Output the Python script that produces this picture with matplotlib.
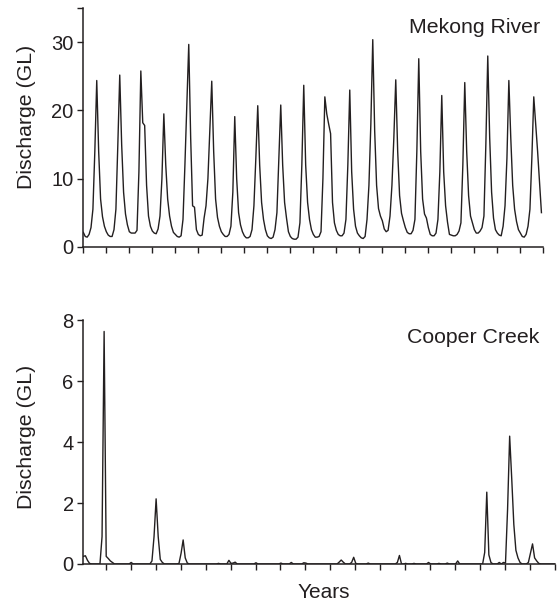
import numpy as np
import matplotlib
matplotlib.use("Agg")
import matplotlib.pyplot as plt

plt.rcParams["font.family"] = ["Liberation Sans", "DejaVu Sans"]

# monthly discharge (GL), one row per year
mekong = [
    [2.1, 1.5, 1.4, 1.8, 2.8, 5.5, 14, 24.4, 14, 7, 4.4, 3.0],
    [2.2, 1.7, 1.5, 1.5, 2.5, 5.5, 15, 25.2, 15, 8, 4.8, 3.2],
    [2.2, 2.0, 2.0, 2.0, 2.4, 11, 25.8, 18.2, 17.8, 9, 4.5, 3.0],
    [2.3, 2.0, 1.9, 2.6, 4.5, 10, 19.5, 12, 7, 4.5, 3.0, 2.1],
    [1.8, 1.5, 1.4, 1.6, 4, 12, 21, 29.7, 16, 6.0, 5.8, 2.5],
    [1.8, 1.6, 1.7, 4.2, 6, 10, 17, 24.3, 14, 7, 4.3, 3.0],
    [2.2, 1.8, 1.5, 1.5, 1.8, 3, 8, 19.1, 10, 5, 3.2, 2.2],
    [1.6, 1.3, 1.3, 1.5, 2.5, 6, 13, 20.7, 12, 6.5, 4.0, 2.5],
    [1.6, 1.3, 1.2, 1.4, 2.5, 5, 13, 20.8, 12, 6.5, 4.2, 2.2],
    [1.5, 1.2, 1.1, 1.1, 1.4, 3.5, 12, 23.7, 12, 6.5, 4.0, 2.5],
    [1.8, 1.4, 1.4, 1.5, 2.2, 10, 22, 19.5, 18, 16.6, 6.5, 3.5],
    [2.4, 1.8, 1.6, 1.6, 2.0, 4, 12, 23, 11, 5.5, 3.0, 2.0],
    [1.6, 1.3, 1.2, 1.5, 4, 9, 18, 30.4, 17, 9, 5.6, 4.5],
    [3.8, 2.6, 2.2, 2.4, 4.5, 9, 16, 24.5, 14, 7.5, 4.9, 3.8],
    [2.8, 2.1, 1.9, 1.9, 2.4, 4, 14, 27.6, 14, 7, 4.8, 4.2],
    [2.8, 1.8, 1.6, 1.6, 2.0, 4, 11, 22.2, 11, 6, 3.6, 1.8],
    [1.7, 1.6, 1.6, 1.8, 2.3, 3.5, 12, 24.1, 14, 7.5, 4.5, 3.5],
    [2.5, 2.0, 2.0, 2.3, 2.8, 4.5, 15, 28, 16, 8, 4.2, 2.5],
    [2.0, 1.7, 1.6, 3.0, 6, 13, 24.4, 16, 9, 5.5, 3.7, 2.5],
    [2.0, 1.5, 1.4, 1.8, 3.0, 5.5, 13, 22, 18, 14, 9.5, 5.0],
]

cooper = [
    [0.25, 0.27, 0.12, 0.02, 0, 0, 0, 0, 0, 0.9, 7.64, 0.25],
    [0.18, 0.1, 0.05, 0, 0, 0, 0, 0, 0, 0, 0, 0.05],
    [0, 0, 0, 0, 0, 0, 0, 0, 0, 0.1, 0.9, 2.14],
    [0.9, 0.15, 0.05, 0, 0, 0, 0, 0, 0, 0, 0.02, 0.35],
    [0.79, 0.2, 0.03, 0, 0, 0, 0, 0, 0, 0, 0, 0],
    [0, 0, 0, 0, 0, 0.02, 0, 0, 0, 0, 0.12, 0.02],
    [0.03, 0.06, 0, 0, 0, 0, 0, 0, 0, 0, 0, 0.04],
    [0, 0, 0, 0, 0, 0, 0, 0, 0, 0, 0, 0.03],
    [0, 0, 0, 0, 0.05, 0, 0, 0, 0, 0, 0.04, 0.03],
    [0, 0, 0, 0, 0, 0, 0, 0, 0, 0, 0, 0],
    [0, 0, 0, 0.06, 0.13, 0.06, 0, 0, 0, 0.05, 0.22, 0.02],
    [0, 0, 0, 0, 0, 0.03, 0, 0, 0, 0, 0, 0],
    [0, 0, 0, 0, 0, 0, 0, 0.05, 0.28, 0, 0, 0.02],
    [0, 0, 0, 0.02, 0, 0, 0, 0, 0, 0, 0.05, 0],
    [0, 0, 0, 0.02, 0, 0, 0, 0.03, 0, 0, 0, 0],
    [0.1, 0, 0, 0, 0, 0, 0, 0, 0, 0, 0, 0],
    [0, 0.38, 2.36, 0.3, 0.05, 0, 0, 0, 0.05, 0, 0.05, 0.03],
    [1.8, 4.2, 2.8, 1.3, 0.45, 0.2, 0.05, 0, 0, 0, 0.05, 0.35],
    [0.66, 0.2, 0.1, 0.02, 0, 0, 0, 0, 0, 0, 0, 0],
]

top_yticks = [0, 10, 20, 30, 35]
top_ylabels = ["0", "10", "20", "30", ""]
bot_yticks = [0, 2, 4, 6, 8]

ink = "#231f20"

mek = np.array(mekong).ravel()
coo = np.array(cooper).ravel()
mek_x = np.arange(len(mek)) / 12
coo_x = 0.1 + np.arange(len(coo)) / 12

fig = plt.figure(figsize=(5.57, 6.03), dpi=100)
ax1 = fig.add_axes([0.1496, 0.5909, 0.8259, 0.3953])
ax2 = fig.add_axes([0.1496, 0.0647, 0.8468, 0.4038])

ax1.plot(mek_x, mek, color=ink, lw=1.0)
ax2.plot(coo_x, coo, color=ink, lw=1.0)

ax1.set_xlim(0, 20)
ax1.set_ylim(0, 35)
ax1.set_xticks(range(0, 21))
ax1.set_yticks(top_yticks)
ax1.set_yticklabels(top_ylabels)

ax2.set_xlim(0.1, 19)
ax2.set_ylim(0, 8)
ax2.set_xticks(range(1, 20))
ax2.set_yticks(bot_yticks)

for ax in (ax1, ax2):
    for s in ("top", "right"):
        ax.spines[s].set_visible(False)
    for s in ("left", "bottom"):
        ax.spines[s].set_linewidth(1.1)
        ax.spines[s].set_color(ink)
    ax.tick_params(direction="out", length=4.3, width=1.0, color=ink,
                   labelsize=14.5, labelcolor=ink, pad=2.6)
    ax.set_xticklabels([])
    ax.set_ylabel("Discharge (GL)", fontsize=15.3, color=ink)

ax1.yaxis.set_label_coords(-0.103, 0.545)
ax2.yaxis.set_label_coords(-0.100, 0.523)

ax1.text(0.994, 0.895, "Mekong River", transform=ax1.transAxes,
         ha="right", va="baseline", fontsize=15.3, color=ink)
ax2.text(0.966, 0.906, "Cooper Creek", transform=ax2.transAxes,
         ha="right", va="baseline", fontsize=15.3, color=ink)

fig.text(324 / 557, 1 - 593 / 603, "Years", ha="center", va="center",
         fontsize=15, color=ink)

fig.savefig("out.png", dpi=100)
